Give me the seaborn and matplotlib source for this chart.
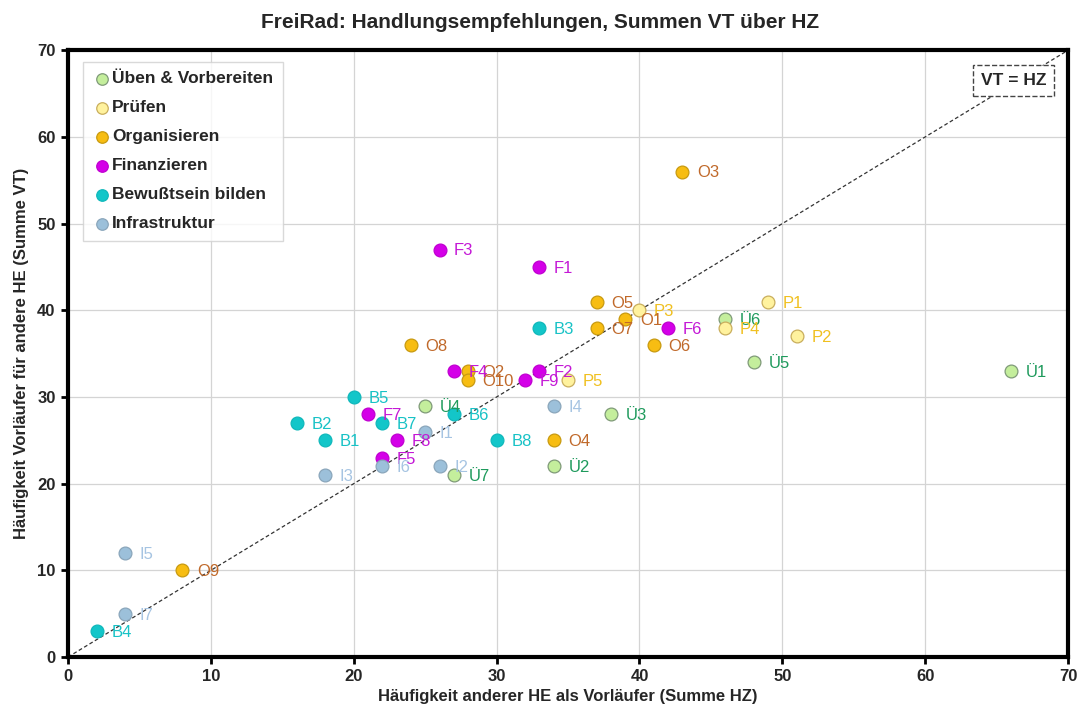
import matplotlib
matplotlib.use('Agg')
import matplotlib.pyplot as plt
import pandas as pd
import seaborn as sns

# -- Daten: Summe HZ (x), Summe VT (y) je Handlungsempfehlung --
UEBEN_LABELS = ['Ü1', 'Ü2', 'Ü3', 'Ü4', 'Ü5', 'Ü6', 'Ü7']
UEBEN_HZ = [66, 34, 38, 25, 48, 46, 27]
UEBEN_VT = [33, 22, 28, 29, 34, 39, 21]

PRUEFEN_LABELS = ['P1', 'P2', 'P3', 'P4', 'P5']
PRUEFEN_HZ = [49, 51, 40, 46, 35]
PRUEFEN_VT = [41, 37, 40, 38, 32]

ORG_LABELS = ['O1', 'O2', 'O3', 'O4', 'O5', 'O6', 'O7', 'O8', 'O9', 'O10']
ORG_HZ = [39, 28, 43, 34, 37, 41, 37, 24, 8, 28]
ORG_VT = [39, 33, 56, 25, 41, 36, 38, 36, 10, 32]

FIN_LABELS = ['F1', 'F2', 'F3', 'F4', 'F5', 'F6', 'F7', 'F8', 'F9']
FIN_HZ = [33, 33, 26, 27, 22, 42, 21, 23, 32]
FIN_VT = [45, 33, 47, 33, 23, 38, 28, 25, 32]

BEW_LABELS = ['B1', 'B2', 'B3', 'B4', 'B5', 'B6', 'B7', 'B8']
BEW_HZ = [18, 16, 33, 2, 20, 27, 22, 30]
BEW_VT = [25, 27, 38, 3, 30, 28, 27, 25]

INFRA_LABELS = ['I1', 'I2', 'I3', 'I4', 'I5', 'I6', 'I7']
INFRA_HZ = [25, 26, 18, 34, 4, 22, 4]
INFRA_VT = [26, 22, 21, 29, 12, 22, 5]

GROUPS = ['Üben & Vorbereiten', 'Prüfen', 'Organisieren',
          'Finanzieren', 'Bewußtsein bilden', 'Infrastruktur']

# Füllfarbe, Randfarbe, Textfarbe je Gruppe
FILL = {'Üben & Vorbereiten': '#c4ee9c', 'Prüfen': '#fff29e',
        'Organisieren': '#f7bd12', 'Finanzieren': '#d400e8',
        'Bewußtsein bilden': '#13c6c9', 'Infrastruktur': '#9cc0da'}
EDGE = {'Üben & Vorbereiten': '#7f9a78', 'Prüfen': '#c9ae5c',
        'Organisieren': '#c89a10', 'Finanzieren': '#c000d0',
        'Bewußtsein bilden': '#10b8bb', 'Infrastruktur': '#8aa6bb'}
TEXT = {'Üben & Vorbereiten': '#1e9a5c', 'Prüfen': '#f0c020',
        'Organisieren': '#c0692a', 'Finanzieren': '#c418d6',
        'Bewußtsein bilden': '#18c2c6', 'Infrastruktur': '#a6c4e2'}

rows = []
for grp, labs, xs, ys in [
        (GROUPS[0], UEBEN_LABELS, UEBEN_HZ, UEBEN_VT),
        (GROUPS[1], PRUEFEN_LABELS, PRUEFEN_HZ, PRUEFEN_VT),
        (GROUPS[2], ORG_LABELS, ORG_HZ, ORG_VT),
        (GROUPS[3], FIN_LABELS, FIN_HZ, FIN_VT),
        (GROUPS[4], BEW_LABELS, BEW_HZ, BEW_VT),
        (GROUPS[5], INFRA_LABELS, INFRA_HZ, INFRA_VT)]:
    for lab, x, y in zip(labs, xs, ys):
        rows.append({'Gruppe': grp, 'Label': lab, 'HZ': x, 'VT': y})
df = pd.DataFrame(rows)

sns.set_theme(style='whitegrid')
plt.rcParams['font.family'] = ['Liberation Sans', 'DejaVu Sans']

fig = plt.figure(figsize=(10.81, 7.18), dpi=100)
ax = fig.add_axes([0.063, 0.085, 0.925, 0.845])

# Diagonale VT = HZ
ax.plot([0, 70], [0, 70], linestyle=(0, (3, 2)), color='#333333', linewidth=0.9, zorder=1)

for grp in GROUPS:
    sub = df[df['Gruppe'] == grp]
    sns.scatterplot(data=sub, x='HZ', y='VT', ax=ax, color=FILL[grp],
                    edgecolor=EDGE[grp], linewidth=0.9, s=85, label=grp, zorder=3)
    for _, r in sub.iterrows():
        ax.annotate(r['Label'], (r['HZ'], r['VT']), xytext=(10.5, -1),
                    textcoords='offset points', va='center', ha='left',
                    fontsize=12, color=TEXT[grp], zorder=4)

ax.set_xlim(0, 70)
ax.set_ylim(0, 70)
ax.set_xticks(range(0, 71, 10))
ax.set_yticks(range(0, 71, 10))
ax.grid(True, color='#d4d4d4', linewidth=0.9)
ax.set_facecolor('white')
for sp in ax.spines.values():
    sp.set_color('black')
    sp.set_linewidth(3)
ax.tick_params(axis='both', which='major', direction='out', length=5, width=2,
               color='black', labelsize=12, pad=4, bottom=True, left=True)
for t in ax.get_xticklabels() + ax.get_yticklabels():
    t.set_fontweight('bold')

ax.set_xlabel('Häufigkeit anderer HE als Vorläufer (Summe HZ)', fontsize=12,
              fontweight='bold', labelpad=3)
ax.set_ylabel('Häufigkeit Vorläufer für andere HE (Summe VT)', fontsize=12,
              fontweight='bold', labelpad=6)
fig.suptitle('FreiRad: Handlungsempfehlungen, Summen VT über HZ', fontsize=15,
             fontweight='bold', y=0.982)

ax.text(66.2, 66.5, 'VT = HZ', ha='center', va='center', fontsize=12.5, fontweight='bold',
        bbox=dict(boxstyle='square,pad=0.45', facecolor='white', edgecolor='#444444',
                  linestyle='--', linewidth=1.0), zorder=5)

leg = ax.legend(loc='upper left', frameon=True, fancybox=False, handletextpad=0.1,
                borderpad=0.55, labelspacing=0.8, markerscale=0.9,
                prop={'weight': 'bold', 'size': 12.5}, bbox_to_anchor=(0.01, 0.99),
                handlelength=1.0, borderaxespad=0.3)
leg.get_frame().set_edgecolor('#d0d0d0')
leg.get_frame().set_linewidth(1.0)

fig.savefig('out.png', dpi=100)
